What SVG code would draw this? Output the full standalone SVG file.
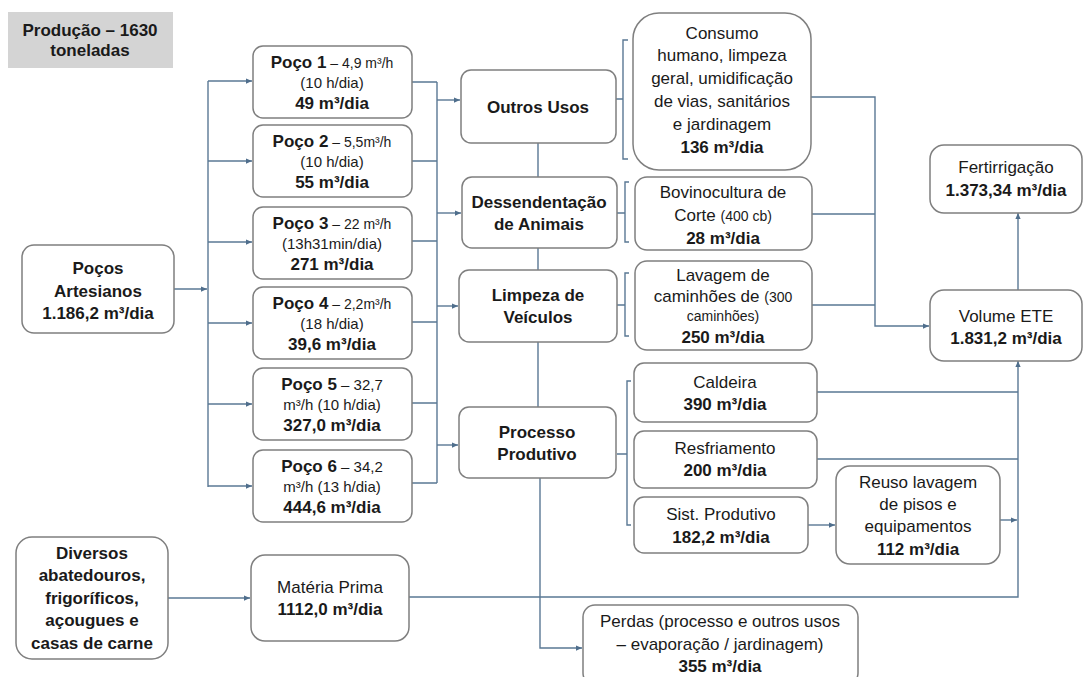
<svg xmlns="http://www.w3.org/2000/svg" width="1085" height="677" viewBox="0 0 1085 677">
<defs>
<marker id="arr" viewBox="0 0 8 8" refX="8" refY="4" markerWidth="6" markerHeight="6" orient="auto" markerUnits="userSpaceOnUse">
<path d="M0,0.5 L8,4 L0,7.5 Z" fill="#4f6e8c"/>
</marker>
<style>
.box{fill:#fff;stroke:#7f7f7f;stroke-width:1.5}
.ln{fill:none;stroke:#5a7894;stroke-width:1.4}
.ar{fill:none;stroke:#5a7894;stroke-width:1.4;marker-end:url(#arr)}
text{font-family:"Liberation Sans",Arial,sans-serif;fill:#1a1a1a;text-anchor:middle}
.b{font-weight:bold;font-size:17px}
.r{font-size:17px}
.s{font-size:14px}
.m{font-size:15px}
</style>
</defs>
<rect width="1085" height="677" fill="#fff"/>

<g id="connectors">
<path class="ar" d="M174,289 H207"/>
<path class="ln" d="M208,81 V487"/>
<path class="ar" d="M208,81 H252"/>
<path class="ar" d="M208,161 H252"/>
<path class="ar" d="M208,242 H252"/>
<path class="ar" d="M208,323 H252"/>
<path class="ar" d="M208,404 H252"/>
<path class="ar" d="M208,486 H252"/>
<path class="ln" d="M412,82 H437 M412,161 H437 M412,241 H437 M412,322 H437 M412,403 H437 M412,483 H437 M437,82 V483"/>
<path class="ar" d="M437,100 H460"/>
<path class="ar" d="M437,213 H461"/>
<path class="ar" d="M437,306 H458"/>
<path class="ar" d="M437,445 H458"/>
<path class="ln" d="M538,143 V177 M538,248 V270 M538,342 V407"/>
<path class="ar" d="M540,478 V648 H582"/>
<path class="ln" d="M628,40 H623 V159 H628 M616,99 H623"/>
<path class="ln" d="M629,182 H625 V242 H629 M617,213 H625"/>
<path class="ln" d="M629,273 H625 V336 H629 M617,305 H625"/>
<path class="ln" d="M631,381 H627 V525 H631 M617,454 H627"/>
<path class="ar" d="M811,97 H875 V326 H929"/>
<path class="ln" d="M812,214 H875 M812,305 H875"/>
<path class="ar" d="M1018,290 V213"/>
<path class="ln" d="M817,392 H1018 M817,459 H1018"/>
<path class="ar" d="M808,525 H835"/>
<path class="ar" d="M1000,520 H1017"/>
<path class="ar" d="M409,597 H1018 V361"/>
<path class="ar" d="M168,598 H250"/>
</g>

<g id="producao">
<rect x="8" y="12" width="165" height="56" fill="#d4d4d4"/>
<text class="b" x="90" y="36">Produção – 1630</text>
<text class="b" x="90" y="56">toneladas</text>
</g>

<g id="pocos-artesianos">
<rect class="box" x="22" y="245" width="152" height="88" rx="12"/>
<text class="b" x="98" y="274">Poços</text>
<text class="b" x="98" y="297">Artesianos</text>
<text class="b" x="98" y="319">1.186,2 m³/dia</text>
</g>

<g id="poco1">
<rect class="box" x="253" y="46" width="159" height="72" rx="10"/>
<text x="332" y="68"><tspan class="b">Poço 1</tspan><tspan class="s"> – 4,9 m³/h</tspan></text>
<text class="m" x="332" y="88">(10 h/dia)</text>
<text class="b" x="332" y="109">49 m³/dia</text>
</g>
<g id="poco2">
<rect class="box" x="253" y="125" width="159" height="72" rx="10"/>
<text x="332" y="147"><tspan class="b">Poço 2</tspan><tspan class="s"> – 5,5m³/h</tspan></text>
<text class="m" x="332" y="167">(10 h/dia)</text>
<text class="b" x="332" y="188">55 m³/dia</text>
</g>
<g id="poco3">
<rect class="box" x="253" y="207" width="159" height="72" rx="10"/>
<text x="332" y="229"><tspan class="b">Poço 3</tspan><tspan class="s"> – 22 m³/h</tspan></text>
<text class="m" x="332" y="249">(13h31min/dia)</text>
<text class="b" x="332" y="270">271 m³/dia</text>
</g>
<g id="poco4">
<rect class="box" x="253" y="287" width="159" height="72" rx="10"/>
<text x="332" y="309"><tspan class="b">Poço 4</tspan><tspan class="s"> – 2,2m³/h</tspan></text>
<text class="m" x="332" y="329">(18 h/dia)</text>
<text class="b" x="332" y="350">39,6 m³/dia</text>
</g>
<g id="poco5">
<rect class="box" x="253" y="368" width="159" height="72" rx="10"/>
<text x="332" y="390"><tspan class="b">Poço 5</tspan><tspan class="m"> – 32,7</tspan></text>
<text class="m" x="332" y="410">m³/h (10 h/dia)</text>
<text class="b" x="332" y="431">327,0 m³/dia</text>
</g>
<g id="poco6">
<rect class="box" x="253" y="450" width="159" height="72" rx="10"/>
<text x="332" y="472"><tspan class="b">Poço 6</tspan><tspan class="m"> – 34,2</tspan></text>
<text class="m" x="332" y="492">m³/h (13 h/dia)</text>
<text class="b" x="332" y="513">444,6 m³/dia</text>
</g>

<g id="outros-usos">
<rect class="box" x="461" y="70" width="155" height="73" rx="10"/>
<text class="b" x="538" y="113">Outros Usos</text>
</g>
<g id="dessendentacao">
<rect class="box" x="462" y="177" width="155" height="71" rx="10"/>
<text class="b" x="539" y="208">Dessendentação</text>
<text class="b" x="539" y="230">de Animais</text>
</g>
<g id="limpeza">
<rect class="box" x="459" y="270" width="158" height="72" rx="10"/>
<text class="b" x="538" y="301">Limpeza de</text>
<text class="b" x="538" y="323">Veículos</text>
</g>
<g id="processo">
<rect class="box" x="459" y="407" width="157" height="71" rx="10"/>
<text class="b" x="537" y="438">Processo</text>
<text class="b" x="537" y="460">Produtivo</text>
</g>

<g id="consumo">
<rect class="box" x="633" y="13" width="178" height="157" rx="26"/>
<text class="r" x="722" y="39">Consumo</text>
<text class="r" x="722" y="61">humano, limpeza</text>
<text class="r" x="722" y="84">geral, umidificação</text>
<text class="r" x="722" y="107">de vias, sanitários</text>
<text class="r" x="722" y="130">e jardinagem</text>
<text class="b" x="722" y="153">136 m³/dia</text>
</g>
<g id="bovinocultura">
<rect class="box" x="635" y="177" width="177" height="73" rx="12"/>
<text class="r" x="723" y="198">Bovinocultura de</text>
<text x="723" y="221"><tspan class="r">Corte </tspan><tspan class="s">(400 cb)</tspan></text>
<text class="b" x="723" y="244">28 m³/dia</text>
</g>
<g id="lavagem">
<rect class="box" x="635" y="261" width="177" height="89" rx="12"/>
<text class="r" x="723" y="281">Lavagem de</text>
<text x="723" y="302"><tspan class="r">caminhões de </tspan><tspan class="s">(300</tspan></text>
<text class="s" x="723" y="321">caminhões)</text>
<text class="b" x="723" y="343">250 m³/dia</text>
</g>
<g id="caldeira">
<rect class="box" x="634" y="363" width="183" height="59" rx="10"/>
<text class="r" x="725" y="388">Caldeira</text>
<text class="b" x="725" y="410">390 m³/dia</text>
</g>
<g id="resfriamento">
<rect class="box" x="634" y="431" width="183" height="57" rx="10"/>
<text class="r" x="725" y="454">Resfriamento</text>
<text class="b" x="725" y="476">200 m³/dia</text>
</g>
<g id="sist-produtivo">
<rect class="box" x="634" y="497" width="174" height="56" rx="10"/>
<text class="r" x="721" y="520">Sist. Produtivo</text>
<text class="b" x="721" y="543">182,2 m³/dia</text>
</g>
<g id="reuso">
<rect class="box" x="836" y="466" width="164" height="98" rx="14"/>
<text class="r" x="918" y="488">Reuso lavagem</text>
<text class="r" x="918" y="510">de pisos e</text>
<text class="r" x="918" y="532">equipamentos</text>
<text class="b" x="918" y="555">112 m³/dia</text>
</g>
<g id="fertirrigacao">
<rect class="box" x="930" y="145" width="152" height="68" rx="14"/>
<text class="r" x="1006" y="173">Fertirrigação</text>
<text class="b" x="1006" y="196">1.373,34 m³/dia</text>
</g>
<g id="volume-ete">
<rect class="box" x="930" y="290" width="152" height="71" rx="14"/>
<text class="r" x="1006" y="322">Volume ETE</text>
<text class="b" x="1006" y="344">1.831,2 m³/dia</text>
</g>
<g id="diversos">
<rect class="box" x="16" y="537" width="152" height="122" rx="16"/>
<text class="b" x="92" y="559">Diversos</text>
<text class="b" x="92" y="581">abatedouros,</text>
<text class="b" x="92" y="604">frigoríficos,</text>
<text class="b" x="92" y="626">açougues e</text>
<text class="b" x="92" y="649">casas de carne</text>
</g>
<g id="materia-prima">
<rect class="box" x="251" y="555" width="158" height="86" rx="14"/>
<text class="r" x="330" y="593">Matéria Prima</text>
<text class="b" x="330" y="615">1112,0 m³/dia</text>
</g>
<g id="perdas">
<rect class="box" x="583" y="605" width="275" height="80" rx="12"/>
<text class="r" x="720" y="627">Perdas (processo e outros usos</text>
<text class="r" x="720" y="650">– evaporação / jardinagem)</text>
<text class="b" x="720" y="672">355 m³/dia</text>
</g>
</svg>
